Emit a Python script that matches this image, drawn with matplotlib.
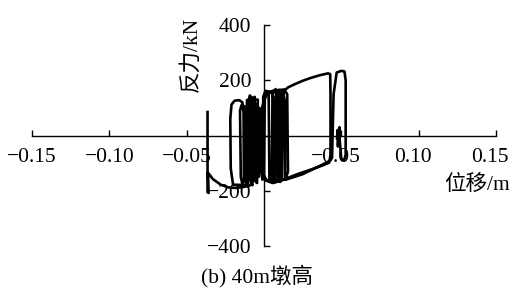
import matplotlib
matplotlib.use("Agg")
import matplotlib.pyplot as plt
import matplotlib.transforms as mtransforms

FONTS = ["Liberation Serif", "Noto Sans CJK SC"]
plt.rcParams["font.family"] = FONTS
plt.rcParams["axes.unicode_minus"] = True

# hysteresis trace, displacement (m) and reaction force (kN)
disp = [
    -0.0365, -0.0365, -0.0358, -0.0362, -0.0330, -0.0280, -0.0230, -0.0180, -0.0130, -0.0090,
    -0.0200, -0.0215, -0.0218, -0.0210, -0.0190, -0.0160, -0.0140, -0.0132, -0.0130, -0.0140,
    -0.0150, -0.0155, -0.0145, -0.0125, -0.0118, -0.0105, -0.0100, -0.0090, -0.0085, -0.0075,
    -0.0072, -0.0060, -0.0058, -0.0045, -0.0040, -0.0110, -0.0112, -0.0095, -0.0092, -0.0080,
    -0.0078, -0.0065, -0.0062, -0.0050, -0.0048, -0.0035, -0.0030, -0.0020, -0.0022, -0.0010,
    -0.0008, -0.0005, 0.0010, 0.0030, 0.0035, 0.0050, 0.0055, 0.0075, 0.0085, 0.0088,
    0.0105, 0.0110, 0.0130, 0.0150, 0.0155, 0.0140, 0.0100, 0.0060, 0.0020, 0.0000,
    0.0005, 0.0020, 0.0045, 0.0060, 0.0062, 0.0070, 0.0078, 0.0095, 0.0098, 0.0115,
    0.0125, 0.0136, 0.0155, 0.0200, 0.0250, 0.0300, 0.0360, 0.0414, 0.0428, 0.0430,
    0.0430, 0.0422, 0.0380, 0.0330, 0.0290, 0.0230, 0.0170, 0.0120, 0.0060, 0.0010,
    -0.0010, -0.0012, 0.0010, 0.0060, 0.0120, 0.0136, 0.0136, 0.0140, 0.0250, 0.0380,
    0.0430, 0.0440, 0.0450, 0.0470, 0.0500, 0.0520, 0.0528, 0.0528, 0.0518, 0.0500,
    0.0490, 0.0488, 0.0482, 0.0478, 0.0476, 0.0472,
]
force = [
    85, -205, -208, -135, -158, -178, -188, -190, -186, -180,
    -178, -120, 60, 112, 126, 128, 120, 80, -160, -175,
    -150, 90, 110, 105, -170, -185, 130, 140, -170, -180,
    135, 140, -165, -172, 130, 128, -150, -160, 145, 138,
    -150, -160, 120, 110, -140, -150, 100, 80, -120, -160,
    -150, 140, 162, 158, -155, -170, 150, 168, 150, -160,
    -168, 155, 166, 150, -130, -158, -165, -172, -165, -145,
    130, 155, 160, 140, -150, -160, 160, 165, -155, -160,
    150, 165, 174, 186, 198, 208, 218, 225, 222, 150,
    -70, -98, -108, -118, -126, -137, -150, -160, -166, -162,
    -130, 100, 150, 162, 166, 120, -150, -160, -140, -105,
    -90, -80, 150, 228, 234, 232, 200, -70, -90, -85,
    -20, 30, 5, -40, 20, -10,
]

xticks = [-0.15, -0.10, -0.05, 0.0, 0.05, 0.10, 0.15]
xticklabels = ["\u22120.15", "\u22120.10", "\u22120.05", "", "\u22120.05", "0.10", "0.15"]
yticks = [-400, -200, 0, 200, 400]
yticklabels = ["\u2212400", "\u2212200", "", "200", "400"]

W, H = 511, 289
fig = plt.figure(figsize=(W / 100, H / 100), dpi=100)
ax = fig.add_axes([32 / W, 1 - 246 / H, (496 - 32) / W, (246 - 25) / H])

ax.plot(disp, force, color="black", lw=1.9, solid_joinstyle="round")

ax.set_xlim(-0.15, 0.15)
ax.set_ylim(-400, 400)
for s in ["top", "right"]:
    ax.spines[s].set_visible(False)
ax.spines["left"].set_position(("data", 0))
ax.spines["bottom"].set_position(("data", 0))
for s in ["left", "bottom"]:
    ax.spines[s].set_linewidth(1.0)

ax.set_xticks(xticks)
ax.set_xticklabels(xticklabels)
ax.set_yticks(yticks)
ax.set_yticklabels(yticklabels)
ax.tick_params(axis="x", direction="in", length=4, width=1.0, pad=9, labelsize=15.5)
ax.tick_params(axis="y", direction="in", length=4, width=1.0, pad=9, labelsize=15.5)

# positive x labels sit a bit to the left in the original
shift = mtransforms.ScaledTranslation(-6 / 100, 0, fig.dpi_scale_trans)
for val, lab in zip(xticks, ax.get_xticklabels()):
    if val > 0:
        lab.set_transform(lab.get_transform() + shift)

fig.text(191 / W, 1 - 54 / H, "反力/kN", rotation=90, ha="center", va="center",
         fontsize=15.5, family=FONTS)
fig.text(510 / W, 1 - 185 / H, "位移/m", ha="right", va="center", fontsize=15.5,
         family=FONTS)
fig.text(257 / W, 1 - 276 / H, "(b) 40m墩高", ha="center", va="center", fontsize=15.5,
         family=FONTS)

fig.savefig("out.png", dpi=100)
